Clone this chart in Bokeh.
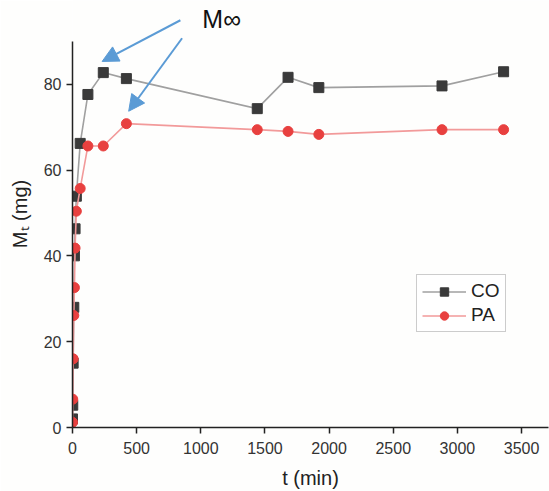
from bokeh.plotting import figure
from bokeh.models import Range1d, Label, Arrow, NormalHead, Legend, LegendItem
from bokeh.embed import file_html
from bokeh.resources import INLINE

# ---- data ----
t_co = [0, 2, 5, 10, 15, 20, 30, 60, 120, 240, 420, 1440, 1680, 1920, 2880, 3360]
m_co = [2.0, 5.2, 15.0, 28.0, 40.0, 46.3, 53.9, 66.2, 77.6, 82.7, 81.3, 74.3, 81.6, 79.2, 79.6, 82.9]
t_pa = [0, 2, 5, 10, 15, 20, 30, 60, 120, 240, 420, 1440, 1680, 1920, 2880, 3360]
m_pa = [1.2, 6.6, 16.0, 26.1, 32.6, 41.8, 50.4, 55.7, 65.6, 65.6, 70.8, 69.4, 69.0, 68.3, 69.4, 69.4]
series_names = ["CO", "PA"]
x_ticks = [0, 500, 1000, 1500, 2000, 2500, 3000, 3500]
y_ticks = [0, 20, 40, 60, 80]
y_axis_bounds = (0, 90)
annotation_text = "M∞"

FONT = "Liberation Sans"

p = figure(width=549, height=491, output_backend="svg", toolbar_location=None,
           x_range=Range1d(0, 3710), y_range=Range1d(0, 99.5),
           background_fill_color="#fefefd", border_fill_color="#fefefd")
p.min_border = 0
p.min_border_left = 72
p.min_border_right = 1
p.min_border_top = 0
p.min_border_bottom = 61
p.outline_line_color = None
p.xgrid.visible = False
p.ygrid.visible = False

for ax in (p.xaxis[0], p.yaxis[0]):
    ax.axis_line_color = "#222222"
    ax.axis_line_width = 1.5
    ax.major_tick_line_color = "#222222"
    ax.major_tick_line_width = 1.5
    ax.minor_tick_line_color = "#222222"
    ax.minor_tick_line_width = 1.5
    ax.major_tick_out = 6
    ax.major_tick_in = 0
    ax.minor_tick_out = 3
    ax.minor_tick_in = 0
    ax.major_label_text_font = FONT
    ax.major_label_text_font_size = "16px"
    ax.major_label_text_color = "#333333"
    ax.axis_label_text_font = FONT
    ax.axis_label_text_font_size = "20px"
    ax.axis_label_text_font_style = "normal"
    ax.axis_label_text_color = "#222222"

p.yaxis.bounds = y_axis_bounds
p.xaxis.ticker = x_ticks
p.xaxis.ticker.num_minor_ticks = 2
p.yaxis.ticker = y_ticks
p.yaxis.ticker.num_minor_ticks = 2
p.xaxis.axis_label = "t (min)"
p.yaxis.axis_label = "Mₜ (mg)"
p.xaxis.major_label_standoff = 8
p.yaxis.major_label_standoff = 5
p.xaxis.axis_label_standoff = 10
p.yaxis.axis_label_standoff = 10

l_co = p.line(t_co, m_co, line_color="#a0a0a0", line_width=1.6)
s_co = p.scatter(t_co, m_co, marker="square", size=10, fill_color="#3a3a3a", line_color="#3a3a3a")
l_pa = p.line(t_pa, m_pa, line_color="#f29a9a", line_width=1.6)
s_pa = p.scatter(t_pa, m_pa, marker="circle", size=10, fill_color="#e8403f", line_color="#e8403f")

legend = Legend(items=[LegendItem(label=series_names[0], renderers=[l_co, s_co]),
                       LegendItem(label=series_names[1], renderers=[l_pa, s_pa])],
                location=(344, 95))
legend.label_text_font = FONT
legend.label_text_font_size = "19px"
legend.label_text_color = "#222222"
legend.glyph_width = 44
legend.glyph_height = 21
legend.label_height = 21
legend.label_standoff = 5
legend.padding = 5
legend.spacing = 2
legend.margin = 0
legend.border_line_color = "#999999"
legend.border_line_width = 1.5
legend.background_fill_color = "white"
legend.background_fill_alpha = 1.0
p.add_layout(legend)

# annotation
lab = Label(x=1012, y=91.9, text=annotation_text, text_font=FONT, text_font_size="25px",
            text_color="#111111", text_baseline="bottom")
p.add_layout(lab)
arrow_color = "#5b9bd5"
for (x0, y0, x1, y1) in [(841, 94.9, 231, 85.3), (854, 90.7, 438, 73.7)]:
    p.add_layout(Arrow(x_start=x0, y_start=y0, x_end=x1, y_end=y1,
                       line_color=arrow_color, line_width=2,
                       end=NormalHead(size=16, fill_color=arrow_color, line_color=arrow_color)))

open("out.html", "w").write(file_html(p, INLINE))
